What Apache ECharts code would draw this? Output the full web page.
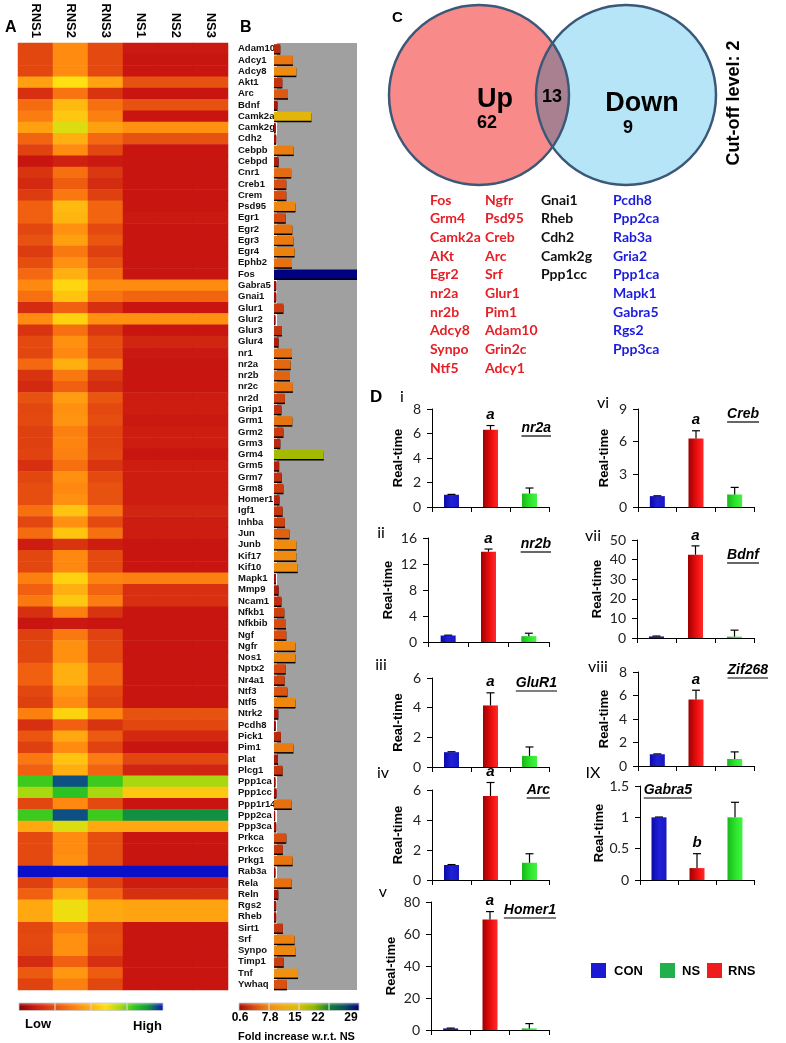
<!DOCTYPE html>
<html><head><meta charset="utf-8">
<script src="https://cdn.jsdelivr.net/npm/echarts@6/dist/echarts.min.js"></script>
<style>html,body{margin:0;padding:0;background:#fff}#c{width:786px;height:1043px}</style>
</head><body><div id="c"></div><script>
// ---------------- DATA ----------------
const genes = [
 'Adam10','Adcy1','Adcy8','Akt1','Arc','Bdnf','Camk2a','Camk2g','Cdh2','Cebpb',
 'Cebpd','Cnr1','Creb1','Crem','Psd95','Egr1','Egr2','Egr3','Egr4','Ephb2',
 'Fos','Gabra5','Gnai1','Glur1','Glur2','Glur3','Glur4','nr1','nr2a','nr2b',
 'nr2c','nr2d','Grip1','Grm1','Grm2','Grm3','Grm4','Grm5','Grm7','Grm8',
 'Homer1','Igf1','Inhba','Jun','Junb','Kif17','Kif10','Mapk1','Mmp9','Ncam1',
 'Nfkb1','Nfkbib','Ngf','Ngfr','Nos1','Nptx2','Nr4a1','Ntf3','Ntf5','Ntrk2',
 'Pcdh8','Pick1','Pim1','Plat','Plcg1','Ppp1ca','Ppp1cc','Ppp1r14','Ppp2ca','Ppp3ca',
 'Prkca','Prkcc','Prkg1','Rab3a','Rela','Reln','Rgs2','Rheb','Sirt1','Srf',
 'Synpo','Timp1','Tnf','Ywhaq'];
const heatCols = ['RNS1','RNS2','RNS3','NS1','NS2','NS3'];
// relative expression level (0 = low, 100 = high)
const rns1 = [
 23,23,23,46,17,33,37,46,31,22,
 10,18,15,20,30,30,23,26,20,25,
 32,40,34,16,41,18,24,23,32,18,
 15,26,23,24,21,21,22,17,23,25,
 25,34,23,33,12,23,23,38,30,36,
 17,10,21,23,23,30,30,23,21,38,
 17,27,21,36,30,79,70,23,79,48,
 24,24,24,100,21,30,48,48,23,24,
 23,16,28,22];
const rns2 = [
 41,41,41,60,35,52,55,64,50,41,
 13,34,29,36,52,51,42,46,36,42,
 50,58,54,30,57,34,42,40,50,36,
 30,45,42,43,38,39,38,34,42,40,
 42,54,42,54,18,40,40,57,50,55,
 38,11,36,42,42,50,50,44,41,57,
 30,48,41,54,50,95,81,40,95,64,
 41,41,42,100,36,50,62,62,38,42,
 42,30,44,38];
const rns3 = [
 24,24,24,47,18,34,38,46,32,23,
 11,19,16,21,31,31,24,27,21,26,
 33,41,35,17,42,19,25,24,33,19,
 16,27,24,25,22,22,23,18,24,26,
 26,35,24,34,12,24,24,39,31,37,
 18,10,22,24,24,31,31,24,22,39,
 18,28,22,37,31,79,70,24,79,48,
 25,25,25,100,22,31,48,48,24,25,
 24,17,29,23];
const ns1 = [
 11,10,10,26,10,26,10,42,26,10,
 10,10,10,10,10,11,10,10,10,10,
 10,41,31,10,42,10,14,11,10,10,
 10,12,12,11,12,12,10,12,12,12,
 12,14,12,12,10,10,10,38,17,17,
 10,10,10,10,10,10,10,10,10,26,
 23,15,10,23,14,70,55,10,90,48,
 10,10,10,100,12,17,47,47,10,10,
 10,10,10,10];
const ns2 = ns1.slice();
const ns3 = ns1.slice();
// fold increase w.r.t. NS (panel B)
const foldIncrease = [
 2.2,6.6,7.8,2.9,4.9,1.2,13.1,0.6,0.8,6.9,
 1.6,6.0,4.3,4.3,7.5,4.1,6.4,6.8,7.2,6.3,
 29,0.8,0.8,3.3,0.5,2.8,1.6,6.3,5.8,5.6,
 6.6,3.8,2.6,6.4,3.3,2.2,17.4,1.8,2.7,3.3,
 1.9,3.0,3.8,5.4,7.8,7.8,8.3,0.7,1.6,2.6,
 3.6,4.2,4.3,7.5,7.5,4.1,3.7,4.7,7.5,1.5,
 0.6,2.4,6.8,1.4,3.0,0.5,0.9,6.2,0.4,0.8,
 4.3,3.1,6.5,0.5,6.2,1.5,0.8,0.8,3.1,7.2,
 7.6,3.4,8.4,4.5];
const foldTicks = ['0.6','7.8','15','22','29'];
// Venn (panel C)
const upCount = 62, bothCount = 13, downCount = 9;
const upGenes1 = ['Fos','Grm4','Camk2a','AKt','Egr2','nr2a','nr2b','Adcy8','Synpo','Ntf5'];
const upGenes2 = ['Ngfr','Psd95','Creb','Arc','Srf','Glur1','Pim1','Adam10','Grin2c','Adcy1'];
const bothGenes = ['Gnai1','Rheb','Cdh2','Camk2g','Ppp1cc'];
const downGenes = ['Pcdh8','Ppp2ca','Rab3a','Gria2','Ppp1ca','Mapk1','Gabra5','Rgs2','Ppp3ca'];
// Real-time PCR (panel D), order: CON, RNS, NS
const groups = ['CON','RNS','NS'];
const nr2aMean = [1.0,6.3,1.1],   nr2aErr = [0.03,0.35,0.45],  nr2aSig = ['','a',''];
const nr2bMean = [1.0,13.9,0.9],  nr2bErr = [0.05,0.4,0.45],   nr2bSig = ['','a',''];
const glur1Mean = [1.0,4.15,0.75],glur1Err = [0.03,0.85,0.6],  glur1Sig = ['','a',''];
const arcMean = [1.0,5.6,1.15],   arcErr = [0.03,0.9,0.6],     arcSig = ['','a',''];
const homer1Mean = [1.0,69,1.0],  homer1Err = [0.2,5,3],       homer1Sig = ['','a',''];
const crebMean = [1.0,6.3,1.15],  crebErr = [0.03,0.7,0.65],   crebSig = ['','a',''];
const bdnfMean = [0.8,42.5,0.7],  bdnfErr = [0.2,4.5,3.3],     bdnfSig = ['','a',''];
const zif268Mean = [1.0,5.65,0.6],zif268Err = [0.03,0.8,0.6],  zif268Sig = ['','a',''];
const gabra5Mean = [1.0,0.19,1.0],gabra5Err = [0.005,0.23,0.24], gabra5Sig = ['','b',''];

// ---------------- STYLE ----------------
const FA = '"Liberation Sans", Arial, sans-serif';
const FL = 'Lato, "Open Sans", sans-serif';
const heatColors = ['#8b0000','#c81510','#dc3c10','#f06010','#ff8810','#ffb010','#ffe010','#a8d810','#30c820','#109040','#0a10c8'];
const foldColors = ['#a00a0a','#d84a10','#f08a10','#f0aa10','#d8c000','#90b800','#108030','#085060','#000080'];

const chart = echarts.init(document.getElementById('c'));
const grids = [], xAxes = [], yAxes = [], series = [], graphics = [];

function T(text, x, y, font, fill, align, valign, rotation){
  return {type:'text', x:x, y:y, rotation:rotation||0, z:10,
    style:{text:text, x:0, y:0, font:font, fill:fill||'#000', textAlign:align||'left', textVerticalAlign:valign||'middle'}};
}

// ---- Panel A heatmap ----
grids.push({left:18, top:43, width:210, height:947});
xAxes.push({type:'category', gridIndex:0, position:'top', data:heatCols,
  axisLine:{show:false}, axisTick:{show:false}, splitLine:{show:false},
  axisLabel:{rotate:90, margin:5, fontFamily:FA, fontWeight:'bold', fontSize:13, color:'#000'}});
yAxes.push({type:'category', gridIndex:0, data:genes, inverse:true, show:false});
const heatData = [];
[rns1, rns2, rns3, ns1, ns2, ns3].forEach((arr, c) => arr.forEach((v, r) => heatData.push([c, r, v])));
series.push({type:'heatmap', xAxisIndex:0, yAxisIndex:0, data:heatData, silent:true,
  itemStyle:{borderWidth:0}});

// ---- Panel B bars ----
grids.push({left:274, top:43, width:83, height:947});
xAxes.push({type:'value', gridIndex:1, min:0, max:29, show:false});
yAxes.push({type:'category', gridIndex:1, data:genes, inverse:true,
  axisLine:{show:false}, axisTick:{show:false},
  axisLabel:{interval:0, align:'left', margin:36, fontFamily:FA, fontWeight:'bold', fontSize:9.5, color:'#111'}});
series.push({type:'bar', xAxisIndex:1, yAxisIndex:1, barWidth:9, silent:true, z:3,
  data: foldIncrease.map((v, i) => [v, genes[i]]),
  itemStyle:{shadowColor:'#000', shadowOffsetY:1.5, shadowBlur:0}});
graphics.push({type:'rect', z:0, shape:{x:277, y:43, width:80, height:947}, style:{fill:'#a0a0a0'}});

// ---- colorbars ----
function colorbar(x, y, w, h, colors){
  graphics.push({type:'rect', z:5, shape:{x:x, y:y, width:w, height:h},
    style:{fill:new echarts.graphic.LinearGradient(0,0,1,0, colors.map((c,i)=>({offset:i/(colors.length-1), color:c}))), stroke:'#c8c8c8', lineWidth:0.8}});
  graphics.push({type:'rect', z:6, shape:{x:x, y:y, width:w, height:h/3}, style:{fill:'rgba(255,255,255,0.18)'}});
  for (let k = 1; k < 4; k++) {
    graphics.push({type:'line', z:7, shape:{x1:x+w*k/4, y1:y, x2:x+w*k/4, y2:y+h}, style:{stroke:'#d8d8d8', lineWidth:1.2}});
  }
}
colorbar(19, 1003, 144, 7.5, heatColors);
colorbar(239, 1003, 120, 7.5, foldColors);
graphics.push(T('Low', 25, 1024, 'bold 13px '+FA, '#000', 'left'));
graphics.push(T('High', 133, 1026, 'bold 13px '+FA, '#000', 'left'));
const foldTickX = [240, 270, 295, 318, 351];
foldTicks.forEach((t, i) => graphics.push(T(t, foldTickX[i], 1018, 'bold 12px '+FA, '#000', 'center')));
graphics.push(T('Fold increase w.r.t. NS', 238, 1037, 'bold 11px '+FA, '#000', 'left'));

// panel letters
graphics.push(T('A', 5, 28, 'bold 16px '+FA, '#000', 'left'));
graphics.push(T('B', 240, 28, 'bold 16px '+FA, '#000', 'left'));
graphics.push(T('C', 392, 18, 'bold 15px '+FA, '#000', 'left'));
graphics.push(T('D', 370, 397, 'bold 17px '+FA, '#000', 'left'));

// ---- Panel C Venn ----
const c1 = [479, 95], c2 = [626, 95], R = 90;
graphics.push({type:'circle', z:2, shape:{cx:c1[0], cy:c1[1], r:R}, style:{fill:'#f98a8a'}});
graphics.push({type:'circle', z:2, shape:{cx:c2[0], cy:c2[1], r:R}, style:{fill:'#b6e5f7'}});
(function(){
  const d = c2[0]-c1[0], a = d/2, hh = Math.sqrt(R*R - a*a);
  const pts = [];
  const N = 40;
  for (let k = 0; k <= N; k++) { const yy = c1[1]-hh + 2*hh*k/N; pts.push([c1[0] + Math.sqrt(Math.max(0,R*R-(yy-c1[1])**2)), yy]); }
  for (let k = N; k >= 0; k--) { const yy = c1[1]-hh + 2*hh*k/N; pts.push([c2[0] - Math.sqrt(Math.max(0,R*R-(yy-c2[1])**2)), yy]); }
  graphics.push({type:'polygon', z:3, shape:{points:pts}, style:{fill:'#a9808f'}});
})();
graphics.push({type:'circle', z:4, shape:{cx:c1[0], cy:c1[1], r:R}, style:{fill:'none', stroke:'#3c5878', lineWidth:2.5}});
graphics.push({type:'circle', z:4, shape:{cx:c2[0], cy:c2[1], r:R}, style:{fill:'none', stroke:'#3c5878', lineWidth:2.5}});
graphics.push(T('Up', 495, 100, 'bold 27px '+FA, '#000', 'center'));
graphics.push(T(String(upCount), 487, 123, 'bold 18px '+FA, '#000', 'center'));
graphics.push(T(String(bothCount), 552, 97, 'bold 18px '+FA, '#000', 'center'));
graphics.push(T('Down', 642, 104, 'bold 27px '+FA, '#000', 'center'));
graphics.push(T(String(downCount), 628, 128, 'bold 18px '+FA, '#000', 'center'));
graphics.push(T('Cut-off level: 2', 734, 103, 'bold 18px '+FA, '#000', 'center', 'middle', Math.PI/2));
function geneCol(list, x, color){
  list.forEach((g, i) => graphics.push(T(g, x, 200 + i*18.7, 'bold 14px '+FL, color, 'left')));
}
geneCol(upGenes1, 430, '#e61e25');
geneCol(upGenes2, 485, '#e61e25');
geneCol(bothGenes, 541, '#111');
geneCol(downGenes, 613, '#1c1ce0');

// ---- Panel D ----
const barGrad = [
  new echarts.graphic.LinearGradient(0,0,1,0,[{offset:0,color:'#0a0aa8'},{offset:0.5,color:'#2020d8'},{offset:1,color:'#1818c0'}]),
  new echarts.graphic.LinearGradient(0,0,1,0,[{offset:0,color:'#a00000'},{offset:0.6,color:'#f01010'},{offset:1,color:'#ff2a2a'}]),
  new echarts.graphic.LinearGradient(0,0,1,0,[{offset:0,color:'#18b818'},{offset:0.6,color:'#30e830'},{offset:1,color:'#48f048'}])
];
const dPanels = [
 {gene:'nr2a', mean:nr2aMean, err:nr2aErr, sig:nr2aSig, max:8, step:2, l:432, t:409, w:117, h:98, ng:27, roman:'i', rx:402, ry:397, gx:551, gy:428},
 {gene:'nr2b', mean:nr2bMean, err:nr2bErr, sig:nr2bSig, max:16, step:4, l:428, t:538, w:121, h:104, ng:33, roman:'ii', rx:381, ry:533, gx:551, gy:544},
 {gene:'GluR1', mean:glur1Mean, err:glur1Err, sig:glur1Sig, max:6, step:2, l:432, t:678, w:117, h:89, ng:27, roman:'iii', rx:381, ry:665, gx:557, gy:683},
 {gene:'Arc', mean:arcMean, err:arcErr, sig:arcSig, max:6, step:2, l:432, t:790, w:117, h:90, ng:27, roman:'iv', rx:383, ry:773, gx:550, gy:790},
 {gene:'Homer1', mean:homer1Mean, err:homer1Err, sig:homer1Sig, max:80, step:20, l:431, t:902, w:118, h:128, ng:33, roman:'v', rx:383, ry:892, gx:556, gy:910},
 {gene:'Creb', mean:crebMean, err:crebErr, sig:crebSig, max:9, step:3, l:638, t:409, w:116, h:98, ng:27, roman:'vi', rx:603, ry:403, gx:759, gy:414},
 {gene:'Bdnf', mean:bdnfMean, err:bdnfErr, sig:bdnfSig, max:50, step:10, l:637, t:540, w:117, h:98, ng:33, roman:'vii', rx:593, ry:536, gx:759, gy:555},
 {gene:'Zif268', mean:zif268Mean, err:zif268Err, sig:zif268Sig, max:8, step:2, l:638, t:672, w:116, h:94, ng:27, roman:'viii', rx:598, ry:667, gx:768, gy:670},
 {gene:'Gabra5', mean:gabra5Mean, err:gabra5Err, sig:gabra5Sig, max:1.5, step:0.5, l:640, t:786, w:114, h:94, ng:30, roman:'IX', rx:593, ry:773, gx:692, gy:790}
];
function makeErr(sig){
  return function(params, api){
    const i = api.value(0), m = api.value(1), e = api.value(2);
    const b = api.coord([i, m]), tp = api.coord([i, m + e]);
    const ch = [
      {type:'line', shape:{x1:b[0], y1:b[1], x2:tp[0], y2:tp[1]}, style:{stroke:'#000', lineWidth:1.2}},
      {type:'line', shape:{x1:tp[0]-4, y1:tp[1], x2:tp[0]+4, y2:tp[1]}, style:{stroke:'#000', lineWidth:1.2}}
    ];
    if (sig[i]) ch.push({type:'text', style:{text:sig[i], x:tp[0], y:tp[1]-3, font:'italic bold 15px '+FA, fill:'#000', textAlign:'center', textVerticalAlign:'bottom'}});
    return {type:'group', children:ch};
  };
}
const mctx = document.createElement('canvas').getContext('2d');
dPanels.forEach((p, k) => {
  const gi = k + 2;
  grids.push({left:p.l, top:p.t, width:p.w, height:p.h});
  xAxes.push({type:'category', gridIndex:gi, data:groups, axisLine:{lineStyle:{color:'#000', width:1}},
    axisTick:{show:true, length:5, lineStyle:{color:'#000'}}, axisLabel:{show:false}, splitLine:{show:false}});
  yAxes.push({type:'value', gridIndex:gi, min:0, max:p.max, interval:p.step,
    name:'Real-time', nameLocation:'middle', nameGap:p.ng,
    nameTextStyle:{fontFamily:FA, fontWeight:'bold', fontSize:13, color:'#000'},
    axisLine:{show:true, lineStyle:{color:'#000', width:1}}, axisTick:{show:true, length:5, lineStyle:{color:'#000'}},
    axisLabel:{fontFamily:FL, fontSize:14, color:'#222', margin:11}, splitLine:{show:false}});
  series.push({type:'bar', xAxisIndex:gi, yAxisIndex:gi, barWidth:15, silent:true,
    data:p.mean.map((v, i) => ({value:v, itemStyle:{color:barGrad[i]}}))});
  series.push({type:'custom', xAxisIndex:gi, yAxisIndex:gi, silent:true, z:5, clip:false,
    data:p.mean.map((v, i) => [i, v, p.err[i]]), renderItem:makeErr(p.sig)});
  graphics.push(T(p.roman, p.rx, p.ry, '16px '+FL, '#000', 'center'));
  const gf = 'italic bold 14px '+FA;
  mctx.font = gf;
  const tw = mctx.measureText(p.gene).width;
  graphics.push(T(p.gene, p.gx, p.gy, gf, '#000', 'right'));
  graphics.push({type:'line', z:10, shape:{x1:p.gx - tw, y1:p.gy + 8, x2:p.gx, y2:p.gy + 8}, style:{stroke:'#000', lineWidth:1.2}});
});
// legend
const legendItems = [['CON','#1a1ad2',591,614],['NS','#22b04c',660,682],['RNS','#ee1c1c',707,728]];
legendItems.forEach(li => {
  graphics.push({type:'rect', z:10, shape:{x:li[2], y:963, width:15, height:15}, style:{fill:li[1]}});
  graphics.push(T(li[0], li[3], 971, 'bold 13px '+FA, '#000', 'left'));
});

chart.setOption({
  animation:false,
  backgroundColor:'#fff',
  grid:grids, xAxis:xAxes, yAxis:yAxes,
  visualMap:[
    {type:'continuous', show:false, seriesIndex:0, dimension:2, min:0, max:100, inRange:{color:heatColors}},
    {type:'continuous', show:false, seriesIndex:1, dimension:0, min:0.6, max:29, inRange:{color:foldColors}}
  ],
  series:series,
  graphic:{elements:graphics}
});
</script></body></html>
